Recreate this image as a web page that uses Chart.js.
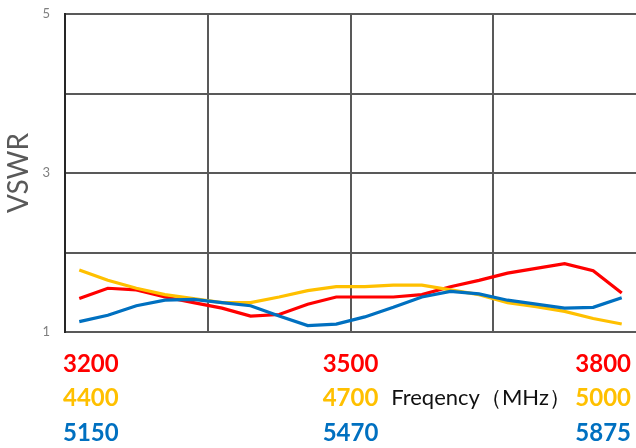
<!DOCTYPE html>
<html>
<head>
<meta charset="utf-8">
<script src="https://cdn.jsdelivr.net/npm/chart.js@4/dist/chart.umd.min.js"></script>
<style>
  html, body { margin: 0; padding: 0; background: #fff; }
  #wrap { width: 636px; height: 448px; }
</style>
</head>
<body>
<div id="wrap"><canvas id="myChart"></canvas></div>
<script>
// sample points along each band (20 per band)
const points = ['1','2','3','4','5','6','7','8','9','10','11','12','13','14','15','16','17','18','19','20'];

const vswrBand1 = [1.42, 1.55, 1.53, 1.44, 1.37, 1.30, 1.20, 1.22, 1.35, 1.44, 1.44, 1.44, 1.47, 1.57, 1.65, 1.74, 1.80, 1.86, 1.77, 1.49];
const vswrBand2 = [1.78, 1.65, 1.55, 1.47, 1.42, 1.37, 1.37, 1.44, 1.52, 1.57, 1.57, 1.59, 1.59, 1.53, 1.47, 1.37, 1.32, 1.26, 1.17, 1.10];
const vswrBand3 = [1.13, 1.21, 1.33, 1.40, 1.41, 1.37, 1.33, 1.20, 1.08, 1.10, 1.19, 1.31, 1.44, 1.51, 1.48, 1.40, 1.35, 1.30, 1.31, 1.43];

// frequency labels under the plot: [left, middle, right]
const band1Ticks = ['3200', '3500', '3800'];
const band2Ticks = ['4400', '4700', '5000'];
const band3Ticks = ['5150', '5470', '5875'];
const xTitle = 'Freqency（MHz）';

const yLabels = [1, 3, 5];

const RED = '#FF0000';
const YELLOW = '#FFC000';
const BLUE = '#0070C0';
const GRID = '#595959';

const bandLabels = {
    id: 'bandLabels',
    afterDraw(chart) {
        const ctx = chart.ctx;
        const area = chart.chartArea;
        const mid = (area.left + area.right) / 2;
        const rows = [
            { ticks: band1Ticks, color: RED, y: 364 },
            { ticks: band2Ticks, color: YELLOW, y: 398 },
            { ticks: band3Ticks, color: BLUE, y: 433 }
        ];
        ctx.save();
        ctx.textBaseline = 'middle';
        ctx.font = 'bold 24px Lato';
        rows.forEach(function(r) {
            ctx.fillStyle = r.color;
            ctx.textAlign = 'left';
            ctx.fillText(r.ticks[0], area.left - 2, r.y);
            ctx.textAlign = 'center';
            ctx.fillText(r.ticks[1], mid, r.y);
            ctx.textAlign = 'right';
            ctx.fillText(r.ticks[2], area.right - 5, r.y);
        });
        ctx.font = '22px Lato';
        ctx.fillStyle = '#111';
        ctx.textAlign = 'center';
        ctx.fillText(xTitle, 481, 398);
        ctx.restore();
    }
};

function renderChart() {
    const ctx = document.getElementById('myChart').getContext('2d');
    new Chart(ctx, {
        type: 'line',
        data: {
            labels: points,
            datasets: [
                { label: 'band1', data: vswrBand1, borderColor: RED, order: 3 },
                { label: 'band2', data: vswrBand2, borderColor: YELLOW, order: 2 },
                { label: 'band3', data: vswrBand3, borderColor: BLUE, order: 1 }
            ]
        },
        options: {
            responsive: true,
            maintainAspectRatio: false,
            animation: false,
            devicePixelRatio: 1,
            elements: {
                line: { borderWidth: 3.2, tension: 0 },
                point: { radius: 0 }
            },
            layout: { padding: { top: 14, right: 0, bottom: 116, left: 0 } },
            plugins: {
                legend: { display: false },
                tooltip: { enabled: false }
            },
            scales: {
                x: {
                    offset: true,
                    ticks: { display: false },
                    grid: {
                        offset: true,
                        drawTicks: false,
                        lineWidth: 2,
                        color: function(c) {
                            return (c.index % 5 === 0 && c.index < 20) ? GRID : 'rgba(0,0,0,0)';
                        }
                    },
                    border: { color: GRID, width: 2 }
                },
                y: {
                    min: 1,
                    max: 5,
                    afterFit: function(scale) {
                        scale.width = 65;
                        scale.paddingTop = 0;
                        scale.paddingBottom = 0;
                    },
                    ticks: {
                        stepSize: 1,
                        padding: 15,
                        color: '#7f7f7f',
                        font: { family: 'Lato', size: 13 },
                        callback: function(v) { return yLabels.includes(v) ? String(v) : ''; }
                    },
                    grid: { drawTicks: false, lineWidth: 2, color: GRID },
                    border: { color: '#262626', width: 2 },
                    title: {
                        display: true,
                        text: 'VSWR',
                        color: '#595959',
                        font: { family: 'Lato', size: 28 },
                        padding: { top: 2, bottom: 0 }
                    }
                }
            }
        },
        plugins: [bandLabels]
    });
}

document.addEventListener('DOMContentLoaded', renderChart);
</script>
</body>
</html>
